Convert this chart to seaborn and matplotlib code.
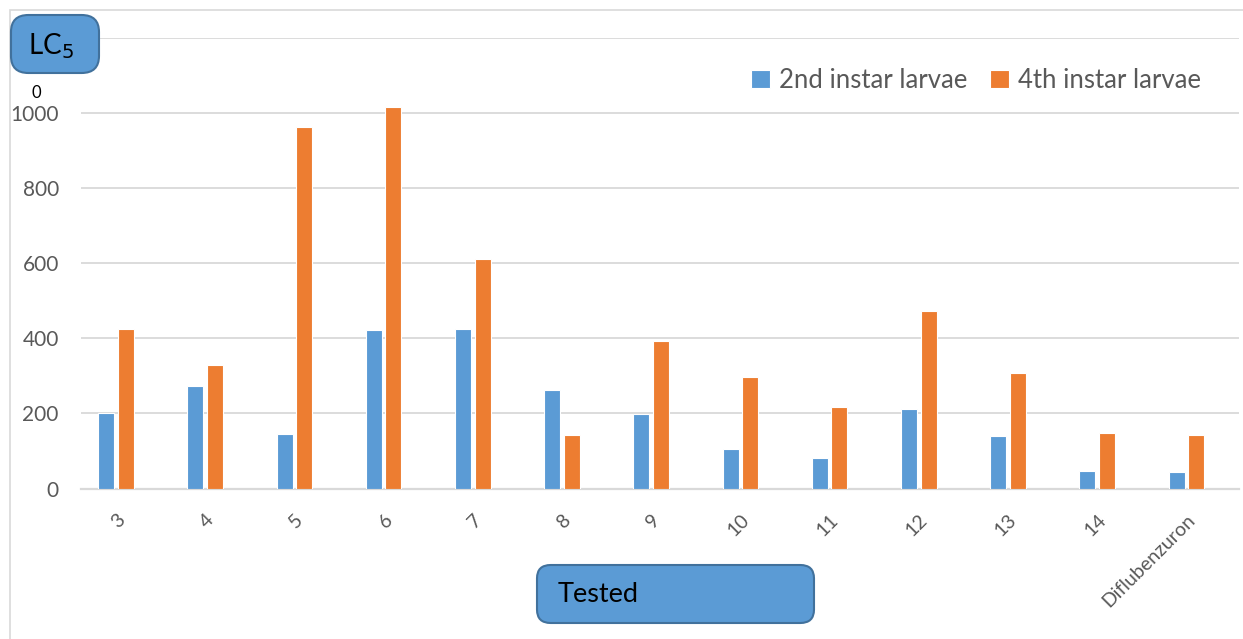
import numpy as np
import pandas as pd
import matplotlib
matplotlib.use("Agg")
import matplotlib.pyplot as plt
from matplotlib.patches import FancyBboxPatch, Rectangle
import seaborn as sns

compounds = ["3", "4", "5", "6", "7", "8", "9", "10", "11", "12", "13", "14", "Diflubenzuron"]
second_instar = [200, 273, 144, 423, 425, 263, 199, 105, 81, 212, 140, 47, 44]
fourth_instar = [425, 329, 964, 1015, 612, 143, 393, 297, 217, 473, 308, 148, 143]
series_names = ["2nd instar larvae", "4th instar larvae"]
y_ticks = [0, 200, 400, 600, 800, 1000]

df = pd.DataFrame({
    "compound": compounds * 2,
    "value": second_instar + fourth_instar,
    "stage": [series_names[0]] * len(compounds) + [series_names[1]] * len(compounds),
})

sns.set_theme(style="white")
plt.rcParams["font.family"] = ["Lato", "DejaVu Sans"]

fig = plt.figure(figsize=(12.43, 6.39), dpi=100)
ax = fig.add_axes([81 / 1243, 0.2355, 1158 / 1243, 0.705])

sns.barplot(data=df, x="compound", y="value", hue="stage", order=compounds,
            hue_order=series_names, palette=["#5B9BD5", "#ED7D31"], saturation=1,
            width=0.44, gap=0.18, errorbar=None, edgecolor="white",
            linewidth=0.8, ax=ax, zorder=3)

ax.set_ylim(0, 1200)
ax.set_xlim(-0.392, 12.59)
ax.set_yticks([0, 200, 400, 600, 800, 1000, 1200])
ax.set_yticklabels([str(t) for t in y_ticks] + [""], color="#595959", fontsize=15)
ax.grid(axis="y", color="#D9D9D9", linewidth=1.3, zorder=0)
for s in ["top", "right", "left"]:
    ax.spines[s].set_visible(False)
ax.spines["bottom"].set_color("#D9D9D9")
ax.spines["bottom"].set_linewidth(1.6)
ax.tick_params(axis="y", length=0, pad=16)
ax.tick_params(axis="x", length=0, pad=16)
ax.set_xlabel("")
ax.set_ylabel("")
plt.setp(ax.get_xticklabels(), rotation=45, ha="right", rotation_mode="anchor",
         color="#595959", fontsize=14)

ax.legend(loc="upper right", bbox_to_anchor=(0.987, 0.985), ncol=2, frameon=False,
          fontsize=18.5, handlelength=0.75, handleheight=0.75, handletextpad=0.35,
          columnspacing=0.85, labelcolor="#595959")

# outer chart border
fig.patches.append(Rectangle((10 / 1243, -0.1), 1.2, 1 - 10 / 639 + 0.1,
                             transform=fig.transFigure, fill=False,
                             edgecolor="#D9D9D9", linewidth=1.2))

# y axis title box
fig.patches.append(FancyBboxPatch((11 / 1243, 1 - 73 / 639), 88 / 1243, 58 / 639,
                                  boxstyle="round,pad=0,rounding_size=0.014",
                                  transform=fig.transFigure, facecolor="#5B9BD5",
                                  edgecolor="#41719C", linewidth=1.5,
                                  mutation_aspect=1.9))
fig.text(51 / 1243, 1 - 46 / 639, "LC$_5$", ha="center", va="center",
         fontsize=20, color="black")
fig.text(36 / 1243, 1 - 93 / 639, "0", ha="center", va="center",
         fontsize=12, color="black")

# x axis title box
fig.patches.append(FancyBboxPatch((537 / 1243, 1 - 623 / 639), 277 / 1243, 58 / 639,
                                  boxstyle="round,pad=0,rounding_size=0.011",
                                  transform=fig.transFigure, facecolor="#5B9BD5",
                                  edgecolor="#41719C", linewidth=1.5,
                                  mutation_aspect=1.9))
fig.text(558 / 1243, 1 - 595 / 639, "Tested", ha="left", va="center",
         fontsize=19.5, color="black")

fig.savefig("out.png", dpi=100)
